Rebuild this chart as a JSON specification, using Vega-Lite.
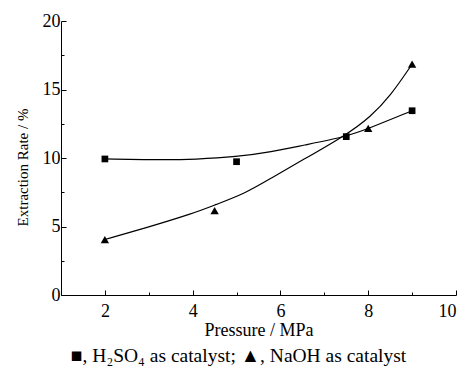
{
  "$schema": "https://vega.github.io/schema/vega-lite/v6.json",
  "width": 395,
  "height": 274,
  "autosize": "none",
  "padding": {"left": 61, "top": 21, "right": 9, "bottom": 73},
  "background": "white",
  "config": {
    "view": {"stroke": null},
    "font": "Liberation Serif",
    "axis": {"grid": false, "domainColor": "black", "tickColor": "black", "labelColor": "black", "titleColor": "black", "labelFont": "Liberation Serif", "titleFont": "Liberation Serif", "titleFontWeight": "normal", "labelFontSize": 18, "titleFontSize": 15, "domainWidth": 1, "tickWidth": 1}
  },
  "title": {
    "text": "■, H₂SO₄ as catalyst; ▲, NaOH as catalyst",
    "orient": "bottom",
    "anchor": "middle",
    "font": "Liberation Serif",
    "fontSize": 19.5,
    "fontWeight": "normal",
    "color": "black",
    "offset": 8,
    "dx": -20
  },
  "datasets": {
    "points": [
      {"series": "H2SO4", "pressure": 2, "rate": 9.93},
      {"series": "H2SO4", "pressure": 5, "rate": 9.73},
      {"series": "H2SO4", "pressure": 7.5, "rate": 11.56},
      {"series": "H2SO4", "pressure": 9, "rate": 13.45},
      {"series": "NaOH", "pressure": 2, "rate": 4.05},
      {"series": "NaOH", "pressure": 4.5, "rate": 6.15},
      {"series": "NaOH", "pressure": 8, "rate": 12.17},
      {"series": "NaOH", "pressure": 9, "rate": 16.85}
    ],
    "curves": [
      {"series": "H2SO4", "pressure": 2, "rate": 9.93},
      {"series": "H2SO4", "pressure": 3.3, "rate": 9.86},
      {"series": "H2SO4", "pressure": 4.05, "rate": 9.9},
      {"series": "H2SO4", "pressure": 5, "rate": 10.08},
      {"series": "H2SO4", "pressure": 5.8, "rate": 10.45},
      {"series": "H2SO4", "pressure": 6.5, "rate": 10.92},
      {"series": "H2SO4", "pressure": 7.5, "rate": 11.56},
      {"series": "H2SO4", "pressure": 8, "rate": 12.14},
      {"series": "H2SO4", "pressure": 9, "rate": 13.45},
      {"series": "NaOH", "pressure": 2, "rate": 4.05},
      {"series": "NaOH", "pressure": 2.9, "rate": 4.87},
      {"series": "NaOH", "pressure": 4.05, "rate": 6.0},
      {"series": "NaOH", "pressure": 4.5, "rate": 6.57},
      {"series": "NaOH", "pressure": 5.2, "rate": 7.42},
      {"series": "NaOH", "pressure": 5.8, "rate": 8.55},
      {"series": "NaOH", "pressure": 6.5, "rate": 9.85},
      {"series": "NaOH", "pressure": 7.5, "rate": 11.68},
      {"series": "NaOH", "pressure": 8.05, "rate": 13.0},
      {"series": "NaOH", "pressure": 8.5, "rate": 14.5},
      {"series": "NaOH", "pressure": 9, "rate": 16.85}
    ]
  },
  "encoding": {
    "x": {
      "field": "pressure", "type": "quantitative",
      "scale": {"domain": [1, 10], "nice": false, "zero": false},
      "axis": {
        "title": "Pressure / MPa",
        "titleFontSize": 18,
        "values": [1, 2, 3, 4, 5, 6, 7, 8, 9, 10],
        "labelExpr": "datum.value % 2 === 0 ? datum.label : ''",
        "tickSize": {"condition": {"test": "datum.value % 2 === 0", "value": -5}, "value": -3},
        "labelPadding": 12,
        "titlePadding": 1
      }
    },
    "y": {
      "field": "rate", "type": "quantitative",
      "scale": {"domain": [0, 20], "nice": false},
      "axis": {
        "title": "Extraction Rate / %",
        "titleY": 146,
        "values": [0, 2.5, 5, 7.5, 10, 12.5, 15, 17.5, 20],
        "labelExpr": "datum.value % 5 === 0 ? datum.label : ''",
        "tickSize": {"condition": {"test": "datum.value % 5 === 0", "value": -5}, "value": -3},
        "labelPadding": 6,
        "titlePadding": 12
      }
    }
  },
  "layer": [
    {
      "data": {"name": "curves"},
      "mark": {"type": "line", "color": "black", "strokeWidth": 1.2, "interpolate": "basis"},
      "encoding": {"detail": {"field": "series"}}
    },
    {
      "data": {"name": "points"},
      "mark": {"type": "point", "filled": true, "color": "black", "opacity": 1},
      "encoding": {
        "shape": {"field": "series", "type": "nominal", "scale": {"domain": ["H2SO4", "NaOH"], "range": ["square", "triangle-up"]}, "legend": null},
        "size": {"field": "series", "type": "nominal", "scale": {"domain": ["H2SO4", "NaOH"], "range": [45, 70]}, "legend": null}
      }
    }
  ]
}
